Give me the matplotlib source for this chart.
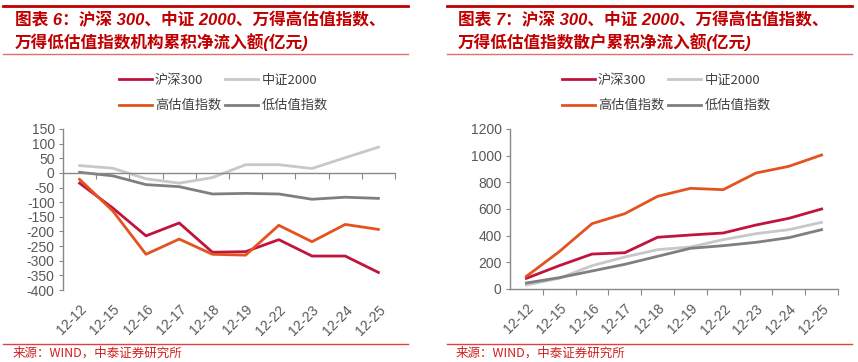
import numpy as np
import matplotlib
matplotlib.use('Agg')
import matplotlib.pyplot as plt
from matplotlib.lines import Line2D

plt.rcParams['font.family'] = ['Liberation Sans', 'Noto Sans CJK SC']
plt.rcParams['axes.unicode_minus'] = False

dates = ['12-12', '12-15', '12-16', '12-17', '12-18', '12-19', '12-22', '12-23', '12-24', '12-25']
names = ['沪深300', '中证2000', '高估值指数', '低估值指数']
colors = ['#C0143C', '#C8C8C8', '#E2531F', '#7F7F7F']

# 机构累积净流入额 (亿元)
inst_hs300 = [-35, -120, -215, -171, -271, -269, -228, -284, -284, -340]
inst_zz2000 = [25, 16, -20, -35, -16, 28, 28, 15, 52, 88]
inst_high = [-22, -130, -278, -226, -278, -281, -179, -235, -176, -193]
inst_low = [2, -10, -40, -47, -72, -70, -72, -90, -83, -87]

# 散户累积净流入额 (亿元)
retail_hs300 = [80, 175, 262, 272, 388, 405, 420, 480, 530, 600]
retail_zz2000 = [30, 80, 175, 240, 295, 315, 370, 415, 445, 500]
retail_high = [95, 280, 490, 565, 695, 755, 745, 870, 920, 1005]
retail_low = [45, 85, 135, 185, 245, 305, 325, 350, 385, 445]

title_left = ['图表 6：沪深 300、中证 2000、万得高估值指数、', '万得低估值指数机构累积净流入额(亿元)']
title_right = ['图表 7：沪深 300、中证 2000、万得高估值指数、', '万得低估值指数散户累积净流入额(亿元)']
source = '来源：WIND，中泰证券研究所'
cjk = ['Noto Sans CJK SC']
red = '#C00000'
axis_col = '#898989'
tick_col = '#595959'

W, H = 858, 362
fig = plt.figure(figsize=(W / 100, H / 100), dpi=100)


def px(x, y):
    return x / W, 1 - y / H


def header(x0, x1, lines, tx):
    fig.add_artist(Line2D([x0 / W, x1 / W], [1 - 6 / H] * 2, color=red, lw=2))
    fig.add_artist(Line2D([x0 / W, x1 / W], [1 - 54 / H] * 2, color='#E07070', lw=1))
    for i, t in enumerate(lines):
        fig.text(*px(tx, 20 + 22 * i), t, color=red, fontsize=12, fontweight='bold',
                 fontstyle='italic', va='center', ha='left',
                 family=['Liberation Sans', 'Noto Sans CJK SC'])
    fig.add_artist(Line2D([x0 / W, x1 / W], [1 - 344 / H] * 2, color='#E04040', lw=1))
    fig.text(*px(tx - 2, 353), source, color='#D02020', fontsize=9, va='center',
             ha='left', family=['Noto Sans CJK SC'])


def panel(rect, series, ylim, yticks, zero_axis, leg_x):
    ax = fig.add_axes(rect)
    x = np.arange(len(dates))
    for vals, c in zip(series, colors):
        ax.plot(x, vals, color=c, lw=2)
    ax.set_xlim(-0.5, len(dates) - 0.5)
    ax.set_ylim(*ylim)
    ax.set_yticks(yticks)
    ax.set_yticklabels([str(v) for v in yticks])
    for s in ['top', 'right']:
        ax.spines[s].set_visible(False)
    for s in ['left', 'bottom']:
        ax.spines[s].set_color(axis_col)
        ax.spines[s].set_linewidth(1)
    ax.tick_params(axis='y', colors=axis_col, labelcolor=tick_col, labelsize=10,
                   length=3, direction='out', pad=3)
    ax.set_xticks(np.arange(len(dates)) + 0.5)
    ax.set_xticklabels([])
    ax.tick_params(axis='x', colors=axis_col, length=4, direction='out')
    if zero_axis:
        ax.spines['bottom'].set_position(('data', 0))
    sec = ax.secondary_xaxis('bottom')
    sec.spines['bottom'].set_visible(False)
    sec.set_xticks(x)
    sec.set_xticklabels(dates, rotation=45, ha='right', rotation_mode='anchor')
    sec.tick_params(length=0, labelsize=10, labelcolor=tick_col, pad=9)

    handles = [Line2D([], [], color=c, lw=2) for c in colors]
    order = [0, 2, 1, 3]
    ax.legend([handles[i] for i in order], [names[i] for i in order], ncol=2,
              loc='upper left', bbox_to_anchor=px(leg_x, 67), bbox_transform=fig.transFigure,
              frameon=False, borderpad=0, handlelength=2.5, handletextpad=0.25,
              columnspacing=0.3, labelspacing=0.95, prop={'family': cjk, 'size': 9.5},
              labelcolor='#404040')
    return ax


header(3, 408, title_left, 15)
header(447, 852, title_right, 458)

panel([63 / W, 1 - 290 / H, 332 / W, 161 / H],
      [inst_hs300, inst_zz2000, inst_high, inst_low],
      (-400, 150), list(range(-400, 151, 50)), True, 112)
panel([510 / W, 1 - 289 / H, 328 / W, 160 / H],
      [retail_hs300, retail_zz2000, retail_high, retail_low],
      (0, 1200), list(range(0, 1201, 200)), False, 555)

fig.savefig('out.png', dpi=100, facecolor='white')
